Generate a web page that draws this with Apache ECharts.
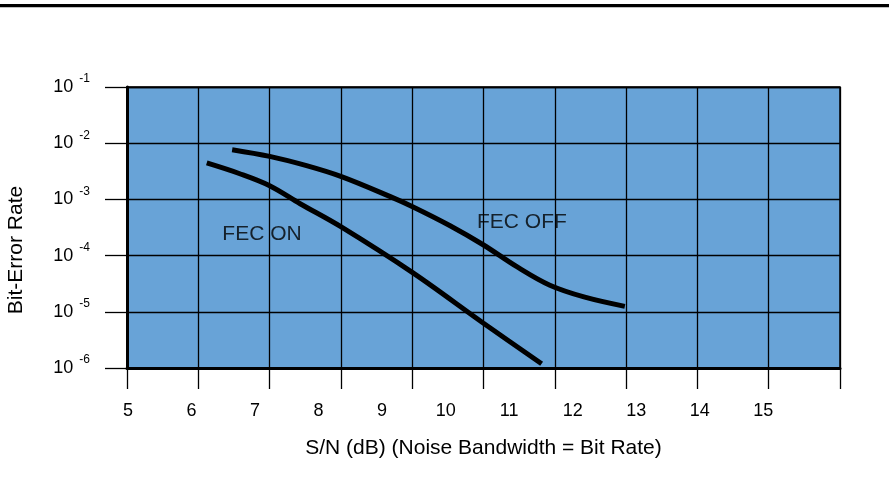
<!DOCTYPE html>
<html><head><meta charset="utf-8">
<script src="https://cdn.jsdelivr.net/npm/echarts@6/dist/echarts.min.js"></script>
<style>html,body{margin:0;padding:0;background:#fff}#c{width:889px;height:484px}</style>
</head><body><div id="c"></div>
<script>
// ---- data ----
const xTickLabels = [5, 6, 7, 8, 9, 10, 11, 12, 13, 14, 15];
const xAxisMin = 4.985;
const xGridStep = 1.1221;
const xGridCount = 10;
const yMin = 1e-6, yMax = 1e-1;
const fecOnX = [6.24, 6.76, 7.23, 7.71, 8.35, 9.48, 10.59, 11.51];
const fecOnY = [4.45e-3, 2.86e-3, 1.75e-3, 8.38e-4, 3.27e-4, 4.97e-5, 6.32e-6, 1.19e-6];
const fecOffX = [6.64, 7.23, 7.81, 8.36, 9.12, 9.48, 10.07, 10.59, 11.12, 11.64, 12.19, 12.82];
const fecOffY = [7.66e-3, 5.82e-3, 3.98e-3, 2.54e-3, 1.13e-3, 7.41e-4, 3.40e-4, 1.56e-4, 6.34e-5, 2.97e-5, 1.82e-5, 1.25e-5];
const annotationText = ['FEC ON', 'FEC OFF'];
const annotationX = [7.11, 11.20];
const annotationY = [2.45e-4, 3.94e-4];
const xTitle = 'S/N (dB) (Noise Bandwidth = Bit Rate)';
const yTitle = 'Bit-Error Rate';

// ---- build ----
const FONT = 'Liberation Sans, Arial, Helvetica, sans-serif';
const gridValues = [];
for (let k = 0; k <= xGridCount; k++) gridValues.push(+(xAxisMin + k * xGridStep).toFixed(4));
const xAxisMax = gridValues[gridValues.length - 1];
const zip = (xs, ys) => xs.map((x, i) => [x, ys[i]]);

const chart = echarts.init(document.getElementById('c'), null, { renderer: 'canvas' });
chart.setOption({
  animation: false,
  backgroundColor: '#ffffff',
  textStyle: { fontFamily: FONT },
  grid: {
    left: 127, right: 49, top: 87, bottom: 116,
    show: true, backgroundColor: '#68a3d7', borderColor: '#000', borderWidth: 1.5
  },
  graphic: [
    { type: 'rect', left: 0, top: 4, shape: { width: 889, height: 3.3 }, style: { fill: '#000' } },
    { type: 'text', x: 16, y: 250, rotation: Math.PI / 2,
      style: { text: yTitle, font: '21px ' + FONT, fill: '#000', align: 'center', verticalAlign: 'middle' } }
  ],
  xAxis: {
    type: 'value', min: xAxisMin, max: xAxisMax, position: 'bottom',
    axisLine: { show: true, onZero: false, lineStyle: { color: '#000', width: 3 } },
    axisTick: { show: true, customValues: gridValues, length: 21, lineStyle: { color: '#000', width: 1.3 } },
    splitLine: { show: true, lineStyle: { color: '#000', width: 1.3 } },
    axisLabel: { customValues: xTickLabels, margin: 34, fontSize: 18, color: '#000', fontFamily: FONT },
    name: xTitle, nameLocation: 'middle', nameGap: 70,
    nameTextStyle: { fontSize: 21, color: '#000', fontFamily: FONT }
  },
  yAxis: {
    type: 'log', logBase: 10, min: yMin, max: yMax,
    axisLine: { show: true, lineStyle: { color: '#000', width: 3 } },
    axisTick: { show: true, length: 22, lineStyle: { color: '#000', width: 1.3 } },
    splitLine: { show: true, lineStyle: { color: '#000', width: 1.3 } },
    minorTick: { show: false },
    axisLabel: {
      margin: 37, color: '#000',
      formatter: v => '{b|10}{s|' + Math.round(Math.log10(v)) + '}',
      rich: {
        b: { fontSize: 18, fontFamily: FONT, color: '#000', verticalAlign: 'middle', lineHeight: 18 },
        s: { fontSize: 12, fontFamily: FONT, color: '#000', verticalAlign: 'middle', lineHeight: 12, padding: [0, 0, 16, 6] }
      }
    }
  },
  series: [
    { type: 'line', data: zip(fecOnX, fecOnY), smooth: 0.35, showSymbol: false, silent: true,
      lineStyle: { color: '#000', width: 5, cap: 'butt' }, z: 5 },
    { type: 'line', data: zip(fecOffX, fecOffY), smooth: 0.35, showSymbol: false, silent: true,
      lineStyle: { color: '#000', width: 5, cap: 'butt' }, z: 5 },
    { type: 'scatter', symbolSize: 0, silent: true, z: 6,
      data: annotationText.map((t, i) => [annotationX[i], annotationY[i], t]),
      label: { show: true, position: 'inside', formatter: p => p.data[2], fontSize: 21, color: '#000', fontFamily: FONT } }
  ]
});
</script></body></html>
